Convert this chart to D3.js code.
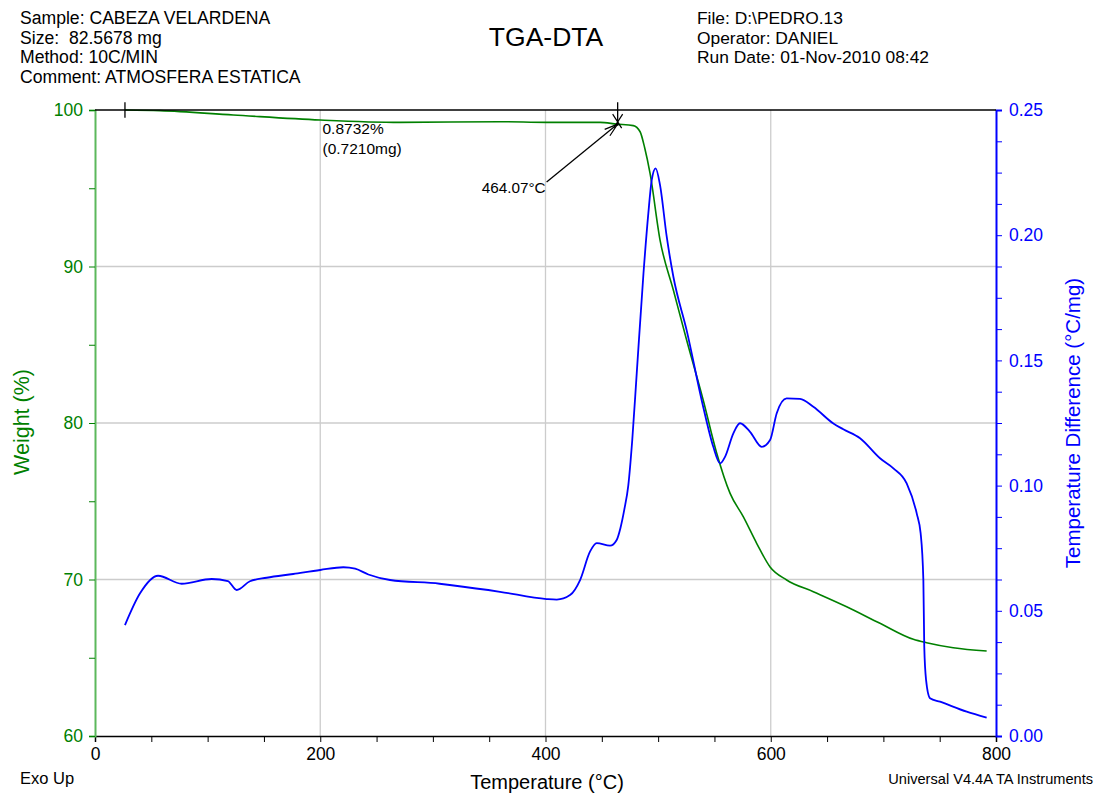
<!DOCTYPE html>
<html>
<head>
<meta charset="utf-8">
<script src="https://cdn.jsdelivr.net/npm/d3@7"></script>
<style>
body { margin: 0; background: #fff; }
text { font-family: "Liberation Sans", Arial, sans-serif; white-space: pre; }
</style>
</head>
<body>
<svg id="chart" width="1096" height="793"></svg>
<script>
// header texts
var leftInfo = ["Sample: CABEZA VELARDENA", "Size:  82.5678 mg", "Method: 10C/MIN", "Comment: ATMOSFERA ESTATICA"];
var rightInfo = ["File: D:\\PEDRO.13", "Operator: DANIEL", "Run Date: 01-Nov-2010 08:42"];

var xTicks = [0, 200, 400, 600, 800];
var wTicks = [60, 70, 80, 90, 100];
var dTicks = [0.00, 0.05, 0.10, 0.15, 0.20, 0.25];

// TGA weight curve (temperature, %)
var tgaTemp = [26.6, 57.7, 122.8, 200, 270.8, 359.6, 401, 448.4, 463.2, 478, 484, 488, 492.8, 501.7, 513.5, 525.3, 540, 551.9, 563.9, 575.7, 587.6, 599.4, 614.1, 637.8, 667.4, 697, 726.6, 738.4, 762, 791.7];
var tgaWeight = [100, 99.96, 99.68, 99.36, 99.21, 99.25, 99.21, 99.21, 99.1, 99.0, 98.61, 97.6, 95.96, 91.69, 88.5, 85.3, 81.47, 78.1, 75.5, 74.0, 72.3, 70.8, 69.97, 69.22, 68.26, 67.2, 66.18, 65.96, 65.64, 65.43];

// DTA curve (temperature, °C/mg)
var dtaTemp = [26.6, 40, 56, 77, 103.6, 118, 125.8, 137.6, 152.4, 176, 200, 220.5, 231, 242.7, 262, 306, 315, 359.6, 401, 410, 421.8, 430.7, 439.5, 445.5, 457.3, 463.2, 466.5, 470, 473.5, 477, 481, 487, 491.3, 494.3, 497.8, 501.7, 507.6, 513.5, 525.3, 540, 549, 555, 559.4, 566.8, 572.7, 581.6, 592, 599.4, 605.3, 614.1, 626, 637.8, 655.6, 664.4, 679.3, 697, 708.9, 720.7, 729.6, 733.1, 735.5, 736.3, 737.9, 741.4, 750.3, 774, 791.7];
var dtaValue = [0.0443, 0.0570, 0.0640, 0.0608, 0.0627, 0.0619, 0.0583, 0.0618, 0.0632, 0.0647, 0.0663, 0.0674, 0.0668, 0.0645, 0.0623, 0.0608, 0.0603, 0.0576, 0.0547, 0.0545, 0.0563, 0.0623, 0.0736, 0.0770, 0.0760, 0.0783, 0.0830, 0.0905, 0.1000, 0.1180, 0.1448, 0.1848, 0.2087, 0.2220, 0.2267, 0.2200, 0.1995, 0.1835, 0.1621, 0.1315, 0.1155, 0.1089, 0.1115, 0.1209, 0.1249, 0.1215, 0.1155, 0.1182, 0.1289, 0.1348, 0.1346, 0.1315, 0.1248, 0.1225, 0.1189, 0.1109, 0.1069, 0.1009, 0.0889, 0.0809, 0.0623, 0.0357, 0.0224, 0.0151, 0.0137, 0.0097, 0.0073];

var green = "#008000", blue = "#0000ff";
var svg = d3.select("#chart");

var x = d3.scaleLinear().domain([0, 800]).range([95, 996]);
var yW = d3.scaleLinear().domain([60, 100]).range([736, 110]);
var yD = d3.scaleLinear().domain([0, 0.25]).range([736, 110]);

// header
svg.append("g").selectAll("text").data(leftInfo).enter().append("text")
    .attr("x", 20).attr("y", function(d, i) { return 24 + i * 19.7; })
    .attr("font-size", 17.6).text(function(d) { return d; });
svg.append("g").selectAll("text").data(rightInfo).enter().append("text")
    .attr("x", 697).attr("y", function(d, i) { return 24 + i * 19.7; })
    .attr("font-size", 17.4).text(function(d) { return d; });
svg.append("text").attr("x", 546).attr("y", 46).attr("text-anchor", "middle")
    .attr("font-size", 26.5).text("TGA-DTA");

// grid
svg.append("g").selectAll("line").data([200, 400, 600]).enter().append("line")
    .attr("x1", function(d) { return x(d); }).attr("x2", function(d) { return x(d); })
    .attr("y1", 110).attr("y2", 736).attr("stroke", "#cccccc").attr("stroke-width", 1.3);
svg.append("g").selectAll("line").data([70, 80, 90]).enter().append("line")
    .attr("x1", 95).attr("x2", 996)
    .attr("y1", function(d) { return yW(d); }).attr("y2", function(d) { return yW(d); })
    .attr("stroke", "#cccccc").attr("stroke-width", 1.3);

// axes
var xAxis = svg.append("g").attr("transform", "translate(0,736)")
    .call(d3.axisBottom(x).tickValues(d3.range(0, 801, 50)).tickSize(6)
        .tickFormat(function(d) { return xTicks.indexOf(d) >= 0 ? d : ""; }));
xAxis.select(".domain").attr("stroke", "#000").attr("stroke-width", 1.5);
xAxis.selectAll("text").attr("font-size", 17.5).attr("dy", "0.85em").attr("fill", "#000");

var wAxis = svg.append("g").attr("transform", "translate(95,0)")
    .call(d3.axisLeft(yW).tickValues(d3.range(60, 100.1, 5)).tickSize(6).tickPadding(6)
        .tickFormat(function(d) { return wTicks.indexOf(d) >= 0 ? d : ""; }));
wAxis.select(".domain").attr("stroke", "#5cb85c").attr("stroke-width", 2);
wAxis.selectAll(".tick line").attr("stroke", green);
wAxis.selectAll("text").attr("font-size", 17.5).attr("fill", green);

var dAxis = svg.append("g").attr("transform", "translate(996,0)")
    .call(d3.axisRight(yD).tickValues(d3.range(0, 0.2501, 0.0125)).tickSize(6).tickPadding(7)
        .tickFormat(function(d) {
            var hit = dTicks.filter(function(t) { return Math.abs(t - d) < 1e-6; });
            return hit.length ? d3.format(".2f")(hit[0]) : "";
        }));
dAxis.select(".domain").attr("stroke", blue).attr("stroke-width", 2);
dAxis.selectAll(".tick line").attr("stroke", blue);
dAxis.selectAll("text").attr("font-size", 17.5).attr("fill", blue);

// axis titles
svg.append("text").attr("transform", "translate(29,422) rotate(-90)").attr("text-anchor", "middle")
    .attr("font-size", 21.5).attr("fill", green).text("Weight (%)");
svg.append("text").attr("transform", "translate(1080,423) rotate(-90)").attr("text-anchor", "middle")
    .attr("font-size", 20.5).attr("fill", blue).text("Temperature Difference (°C/mg)");
svg.append("text").attr("x", 547).attr("y", 789).attr("text-anchor", "middle")
    .attr("font-size", 20).text("Temperature (°C)");
svg.append("text").attr("x", 20).attr("y", 784).attr("font-size", 16.5).text("Exo Up");
svg.append("text").attr("x", 1093).attr("y", 784).attr("text-anchor", "end")
    .attr("font-size", 14.6).text("Universal V4.4A TA Instruments");

// curves
var tga = tgaTemp.map(function(t, i) { return {t: t, v: tgaWeight[i]}; });
var dta = dtaTemp.map(function(t, i) { return {t: t, v: dtaValue[i]}; });

svg.append("path").datum(tga)
    .attr("d", d3.line().curve(d3.curveMonotoneX)
        .x(function(d) { return x(d.t); }).y(function(d) { return yW(d.v); }))
    .attr("fill", "none").attr("stroke", green).attr("stroke-width", 1.6);
svg.append("path").datum(dta)
    .attr("d", d3.line().curve(d3.curveMonotoneX)
        .x(function(d) { return x(d.t); }).y(function(d) { return yD(d.v); }))
    .attr("fill", "none").attr("stroke", blue).attr("stroke-width", 1.8);

// step analysis annotation
svg.append("line").attr("x1", 95).attr("x2", 996).attr("y1", yW(100)).attr("y2", yW(100))
    .attr("stroke", "#000").attr("stroke-width", 1.3);
svg.append("line").attr("x1", x(26.6)).attr("x2", x(26.6)).attr("y1", yW(100.5)).attr("y2", yW(99.5))
    .attr("stroke", "#000").attr("stroke-width", 1.3);
var ox = x(464.07), oy = yW(99.1);
svg.append("line").attr("x1", ox).attr("x2", ox).attr("y1", yW(100.5)).attr("y2", yW(99.0))
    .attr("stroke", "#000").attr("stroke-width", 1.3);
svg.append("path").attr("d", "M" + (ox - 5) + "," + (oy - 10) + "L" + (ox + 4) + "," + (oy + 4) +
        "M" + (ox + 5) + "," + (oy - 10) + "L" + (ox - 4) + "," + (oy + 4))
    .attr("stroke", "#000").attr("fill", "none").attr("stroke-width", 1.2);
var ax = x(401), ay = yW(95.4);
svg.append("line").attr("x1", ax).attr("y1", ay).attr("x2", ox).attr("y2", oy)
    .attr("stroke", "#000").attr("stroke-width", 1.3);
var ang = Math.atan2(oy - ay, ox - ax);
svg.append("path").attr("d", "M" + (ox - 14 * Math.cos(ang - 0.3)) + "," + (oy - 14 * Math.sin(ang - 0.3)) +
        "L" + ox + "," + oy + "L" + (ox - 14 * Math.cos(ang + 0.3)) + "," + (oy - 14 * Math.sin(ang + 0.3)))
    .attr("stroke", "#000").attr("fill", "none").attr("stroke-width", 1.2);
svg.append("text").attr("x", ax - 1).attr("y", ay + 11).attr("text-anchor", "end")
    .attr("font-size", 15.3).text("464.07°C");
svg.append("text").attr("x", x(202)).attr("y", 134).attr("font-size", 15.5).text("0.8732%");
svg.append("text").attr("x", x(202)).attr("y", 154).attr("font-size", 15.5).text("(0.7210mg)");
</script>
</body>
</html>
